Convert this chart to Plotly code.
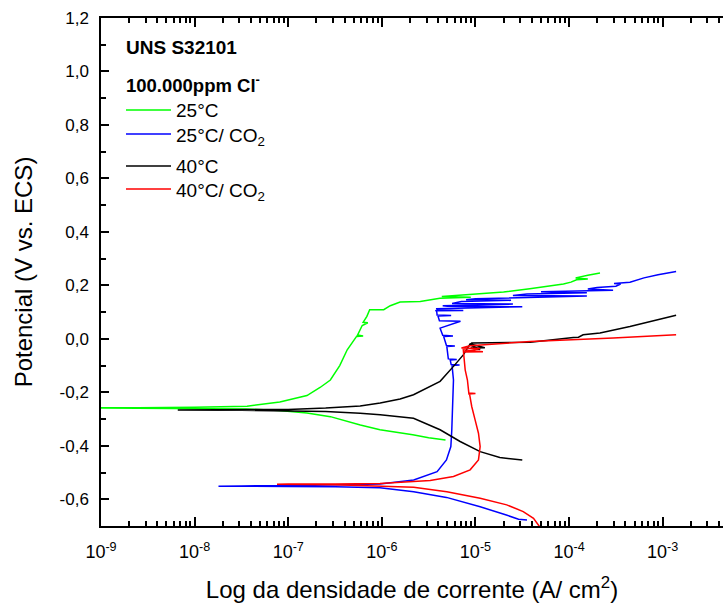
import numpy as np
import plotly.graph_objects as go

# ---- data (log10 of current density in A/cm2, potential in V vs. ECS) ----
g_logi = [-5.32, -5.50, -5.67, -5.85, -6.02, -6.23, -6.55, -6.80, -7.10, -7.45, -8.00, -8.60, -9.30,
          -8.60, -8.00, -7.44, -7.09, -6.80, -6.66, -6.55, -6.45, -6.37, -6.27, -6.20, -6.26, -6.21,
          -6.15, -6.20, -6.16, -6.13, -5.98, -5.91, -5.805, -5.59, -5.38, -5.05, -5.36, -5.06, -4.70,
          -4.42, -4.06, -3.98, -3.92, -3.80, -3.93, -3.80, -3.67]
g_e = [-0.378, -0.370, -0.359, -0.350, -0.340, -0.322, -0.291, -0.277, -0.268, -0.262, -0.260, -0.259, -0.258,
       -0.258, -0.256, -0.252, -0.236, -0.212, -0.182, -0.154, -0.100, -0.041, 0.009, 0.011, 0.014, 0.050,
       0.060, 0.062, 0.084, 0.109, 0.109, 0.124, 0.138, 0.140, 0.152, 0.156, 0.158, 0.166, 0.175,
       0.187, 0.205, 0.212, 0.221, 0.224, 0.228, 0.238, 0.246]

b_logi = [-4.45, -4.54, -4.67, -4.95, -5.31, -5.66, -6.02, -6.50, -7.00, -7.40, -7.745,
          -7.50, -7.00, -6.50, -6.02, -5.66, -5.41, -5.31, -5.263, -5.253, -5.245, -5.24, -5.235,
          -5.25, -5.17, -5.26, -5.27, -5.20, -5.29, -5.306, -5.22, -5.31, -5.34, -5.24, -5.35,
          -5.378, -5.16, -5.385, -5.40, -5.26, -5.41, -5.413, -5.42,
          -5.13, -5.40, -5.42, -4.50, -5.30, -5.35, -4.60, -5.25, -5.15, -4.62, -5.10, -5.0,
          -3.81, -4.60, -4.45, -3.81, -4.30, -3.91, -3.53, -3.80, -3.70, -3.50, -3.45, -3.52,
          -3.35, -3.20, -3.05, -2.857]
b_e = [-0.678, -0.675, -0.659, -0.628, -0.593, -0.572, -0.557, -0.553, -0.552, -0.551, -0.551,
       -0.550, -0.549, -0.547, -0.543, -0.528, -0.497, -0.453, -0.403, -0.341, -0.280, -0.216, -0.154,
       -0.100, -0.098, -0.096, -0.079, -0.077, -0.075, -0.029, -0.027, -0.025, 0.009, 0.011, 0.013,
       0.040, 0.066, 0.068, 0.085, 0.087, 0.089, 0.100, 0.105,
       0.106, 0.108, 0.113, 0.120, 0.122, 0.124, 0.130, 0.132, 0.140, 0.144, 0.146, 0.150,
       0.160, 0.162, 0.168, 0.172, 0.176, 0.180, 0.182, 0.186, 0.192, 0.197, 0.205, 0.207,
       0.212, 0.228, 0.240, 0.252]

k_logi = [-4.50, -4.74, -4.95, -5.164, -5.378, -5.662, -6.018, -6.232, -6.60, -7.00, -7.50, -8.18,
          -7.50, -7.00, -6.60, -6.232, -6.018, -5.805, -5.662, -5.378, -5.235, -5.13, -5.075, -5.057,
          -4.90, -5.05, -4.95, -5.06, -5.04, -4.415, -3.955, -3.90, -3.85, -3.67, -3.35, -3.064, -2.857]
k_e = [-0.453, -0.444, -0.422, -0.384, -0.340, -0.297, -0.284, -0.278, -0.272, -0.269, -0.267, -0.266,
       -0.265, -0.264, -0.259, -0.251, -0.240, -0.225, -0.209, -0.159, -0.103, -0.060, -0.029, -0.019,
       -0.033, -0.034, -0.040, -0.022, -0.016, -0.013, 0.005, 0.006, 0.015, 0.022, 0.046, 0.071, 0.088]

r_logi = [-4.30, -4.346, -4.38, -4.49, -4.666, -4.95, -5.306, -5.66, -6.02, -6.50, -7.12,
          -7.00, -6.50, -6.02, -5.484, -5.235, -5.057, -4.968, -4.95, -4.968, -5.004, -5.04, -5.065,
          -5.00, -5.07, -5.086, -5.11, -5.13, -4.92, -5.12, -4.95, -5.15, -5.06, -4.415, -3.528, -2.857]
r_e = [-0.710, -0.688, -0.671, -0.646, -0.621, -0.596, -0.572, -0.555, -0.550, -0.546, -0.544,
       -0.543, -0.543, -0.541, -0.530, -0.515, -0.490, -0.453, -0.403, -0.353, -0.303, -0.253, -0.203,
       -0.204, -0.206, -0.154, -0.116, -0.041, -0.048, -0.049, -0.036, -0.034, -0.026, -0.010, 0.003, 0.015]

names = ["25°C", "25°C/ CO<sub>2</sub>", "40°C", "40°C/ CO<sub>2</sub>"]
colors = ["#00FF00", "#0000FF", "#000000", "#FF0000"]

x_tickvals = [1e-9, 1e-8, 1e-7, 1e-6, 1e-5, 1e-4, 1e-3]
x_ticktext = ["10<sup>-9</sup>", "10<sup>-8</sup>", "10<sup>-7</sup>", "10<sup>-6</sup>",
              "10<sup>-5</sup>", "10<sup>-4</sup>", "10<sup>-3</sup>"]
y_tickvals = [-0.6, -0.4, -0.2, 0.0, 0.2, 0.4, 0.6, 0.8, 1.0, 1.2]
y_ticktext = ["-0,6", "-0,4", "-0,2", "0,0", "0,2", "0,4", "0,6", "0,8", "1,0", "1,2"]

x_minor = [m * 10.0 ** p for p in range(-9, -1) for m in range(2, 10)]

FONT = "Liberation Sans, Arial, sans-serif"

# layout helpers (pixel -> paper)
L, T, B, W, H = 101, 18, 81, 723, 607
PW, PH = W - L, H - T - B
def px(xp):
    return (xp - L) / PW
def py(yp):
    return (H - B - yp) / PH

fig = go.Figure()
series = [(g_logi, g_e), (b_logi, b_e), (k_logi, k_e), (r_logi, r_e)]
for (lx, e), nm, c in zip(series, names, colors):
    fig.add_trace(go.Scatter(x=10.0 ** np.array(lx), y=e, mode="lines", name=nm,
                             line=dict(color=c, width=1.5), showlegend=False))

fig.update_layout(
    width=W, height=H,
    margin=dict(l=L, r=0, t=T, b=B),
    paper_bgcolor="white", plot_bgcolor="white",
    font=dict(family=FONT, color="black", size=16),
    showlegend=False,
)
fig.update_xaxes(
    type="log", range=[-9, -2.356], automargin=False,
    tickvals=x_tickvals, ticktext=x_ticktext,
    ticks="inside", ticklen=9, tickwidth=1.5, tickcolor="black", ticklabelstandoff=9,
    showline=True, linecolor="black", linewidth=1.5, mirror="ticks",
    showgrid=False, zeroline=False,
    tickfont=dict(size=18),
    minor=dict(tickvals=x_minor, ticks="inside", ticklen=5, tickwidth=1.5, tickcolor="black", showgrid=False),
    title=dict(text="Log da densidade de corrente (A/ cm<sup>2</sup>)", font=dict(size=24), standoff=20),
)
fig.update_yaxes(
    range=[-0.7, 1.2], automargin=False,
    tickvals=y_tickvals, ticktext=y_ticktext,
    ticks="inside", ticklen=8, tickwidth=1.5, tickcolor="black", ticklabelstandoff=7,
    showline=True, linecolor="black", linewidth=1.5,
    showgrid=False, zeroline=False,
    tickfont=dict(size=17),
    minor=dict(dtick=0.1, tick0=0, ticks="inside", ticklen=5, tickwidth=1.5, tickcolor="black", showgrid=False),
    title=dict(text="Potencial (V vs. ECS)", font=dict(size=24), standoff=20),
)

# header texts
fig.add_annotation(x=px(124), y=py(47), xref="paper", yref="paper", xanchor="left", yanchor="middle",
                   text="<b>UNS S32101</b>", showarrow=False, font=dict(size=19))
fig.add_annotation(x=px(124), y=py(84), xref="paper", yref="paper", xanchor="left", yanchor="middle",
                   text="<b>100.000ppm Cl<sup>-</sup></b>", showarrow=False, font=dict(size=18.5))

# legend drawn by hand (line sample + label)
leg_y = [110, 134, 166, 189]
leg_dy = [0, 3, 0, 3]
for nm, c, yy, dy in zip(names, colors, leg_y, leg_dy):
    fig.add_shape(type="line", xref="paper", yref="paper", x0=px(126), x1=px(171), y0=py(yy), y1=py(yy),
                  line=dict(color=c, width=1.5))
    fig.add_annotation(x=px(174), y=py(yy + dy), xref="paper", yref="paper", xanchor="left", yanchor="middle",
                       text=nm, showarrow=False, font=dict(size=19))

fig.write_html("out.html", config={"displayModeBar": False},
               post_script="document.body.style.margin='0';")
